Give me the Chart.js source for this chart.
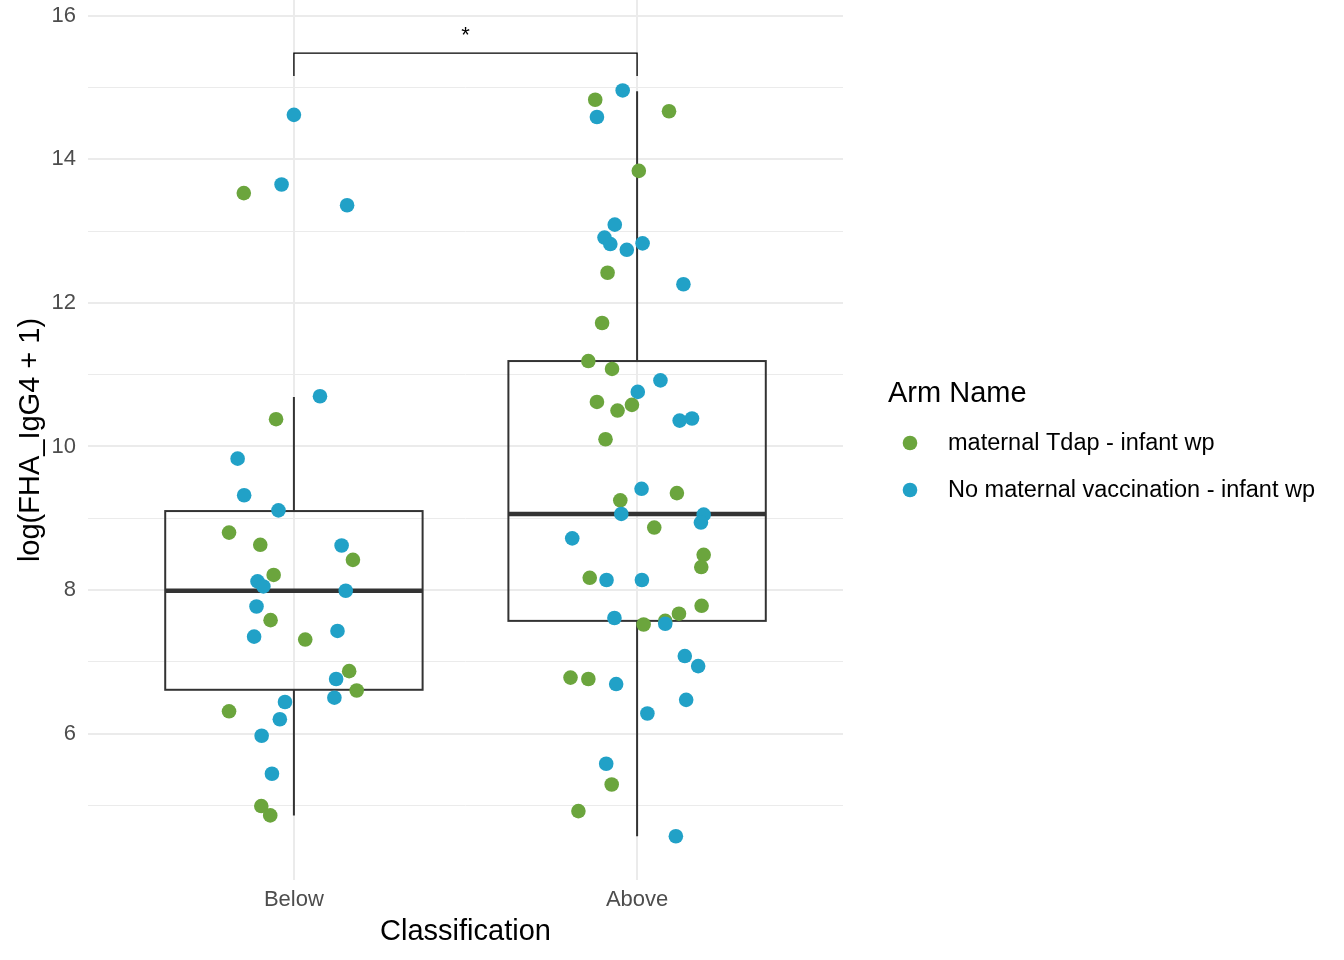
<!DOCTYPE html>
<html>
<head>
<meta charset="utf-8">
<script src="https://cdn.jsdelivr.net/npm/chart.js@4.4.0/dist/chart.umd.min.js"></script>
<style>
html,body{margin:0;padding:0;background:#ffffff;}
#wrap{width:1344px;height:960px;position:relative;}
</style>
</head>
<body>
<div id="wrap"><canvas id="c" width="1344" height="960"></canvas></div>
<script>
// ---------- data ----------
const categories = ['Below', 'Above'];
const seriesNames = ['maternal Tdap - infant wp', 'No maternal vaccination - infant wp'];
const legendTitle = 'Arm Name';
const xTitle = 'Classification';
const yTitle = 'log(FHA_IgG4 + 1)';
const yMajorTicks = [6, 8, 10, 12, 14, 16];
const yMinorTicks = [5, 7, 9, 11, 13, 15];

// maternal Tdap - infant wp (group index 1 = Below, 2 = Above)
const tdapGroup = [1,1,1,1,1,1,1,1,1,1,1,1,1,
                   2,2,2,2,2,2,2,2,2,2,2,2,2,2,2,2,2,2,2,2,2,2,2,2,2];
const tdapJitter = [-0.146,-0.052,-0.189,-0.098,0.172,-0.059,-0.068,0.033,0.161,0.183,-0.189,-0.095,-0.069,
                    -0.122,0.093,0.005,-0.086,-0.102,-0.142,-0.073,-0.117,-0.015,-0.057,-0.092,0.116,-0.049,
                    0.050,0.194,0.187,-0.138,0.188,0.122,0.082,0.019,-0.194,-0.142,-0.074,-0.171];
const tdapValue = [13.53,10.38,8.80,8.63,8.42,8.21,7.58,7.31,6.87,6.60,6.31,4.99,4.86,
                   14.83,14.67,13.84,12.42,11.72,11.19,11.08,10.62,10.58,10.50,10.10,9.35,9.25,
                   8.87,8.49,8.32,8.17,7.78,7.67,7.57,7.52,6.78,6.76,5.29,4.92];

// No maternal vaccination - infant wp
const noVaxGroup = [1,1,1,1,1,1,1,1,1,1,1,1,1,1,1,1,1,1,1,1,
                    2,2,2,2,2,2,2,2,2,2,2,2,2,2,2,2,2,2,2,2,2,2,2,2,2,2,2,2];
const noVaxJitter = [0.000,-0.036,0.155,0.076,-0.164,-0.145,-0.045,0.139,-0.106,-0.089,0.151,-0.109,0.127,-0.116,0.123,0.118,-0.026,-0.041,-0.094,-0.064,
                     -0.042,-0.117,-0.065,-0.095,0.016,-0.078,-0.030,0.135,0.068,0.002,0.160,0.124,0.013,-0.046,0.194,0.186,-0.189,-0.089,0.014,-0.066,0.082,0.139,0.178,-0.061,0.143,0.030,-0.090,0.113];
const noVaxValue = [14.62,13.65,13.36,10.70,9.83,9.32,9.11,8.62,8.12,8.05,7.99,7.77,7.43,7.35,6.76,6.50,6.44,6.20,5.97,5.44,
                    14.96,14.59,13.09,12.91,12.83,12.82,12.74,12.26,10.92,10.76,10.39,10.36,9.41,9.06,9.05,8.94,8.72,8.14,8.14,7.61,7.53,7.08,6.94,6.69,6.47,6.28,5.58,4.57];

// boxplot statistics per category
const boxLower = [4.86, 4.57];
const boxQ1 = [6.61, 7.57];
const boxMedian = [7.99, 9.06];
const boxQ3 = [9.10, 11.19];
const boxUpper = [10.69, 14.95];

// significance bracket
const sigFrom = [1];
const sigTo = [2];
const sigTop = [15.48];
const sigLegEnd = [15.16];
const sigLabel = ['*'];

// ---------- styles ----------
const COLORS = ['#6BA53D', '#21A1C7'];
const FONT = "'Liberation Sans', Arial, Helvetica, sans-serif";
const BOX_WIDTH = 0.75;
Chart.defaults.font.family = FONT;

function buildPoints(group, jitter, value) {
  return value.map((v, i) => ({ x: group[i] + jitter[i], y: v }));
}
function zeroPad(s) {
  s.paddingTop = 0; s.paddingBottom = 0; s.paddingLeft = 0; s.paddingRight = 0;
  if (s._margins) { s._margins.top = 0; s._margins.bottom = 0; s._margins.left = 0; s._margins.right = 0; }
}

const boxPlugin = {
  id: 'boxes',
  beforeDatasetsDraw(chart) {
    const ctx = chart.ctx, xs = chart.scales.x, ys = chart.scales.y;
    ctx.save();
    ctx.strokeStyle = '#333333';
    ctx.lineCap = 'butt';
    for (let i = 0; i < categories.length; i++) {
      const c = i + 1;
      const cx = xs.getPixelForValue(c);
      const xl = xs.getPixelForValue(c - BOX_WIDTH / 2);
      const xr = xs.getPixelForValue(c + BOX_WIDTH / 2);
      const yq1 = ys.getPixelForValue(boxQ1[i]);
      const yq3 = ys.getPixelForValue(boxQ3[i]);
      const ymed = ys.getPixelForValue(boxMedian[i]);
      const ylo = ys.getPixelForValue(boxLower[i]);
      const yhi = ys.getPixelForValue(boxUpper[i]);
      ctx.lineWidth = 2;
      ctx.beginPath();
      ctx.moveTo(cx, yq3); ctx.lineTo(cx, yhi);
      ctx.moveTo(cx, yq1); ctx.lineTo(cx, ylo);
      ctx.stroke();
      ctx.strokeRect(xl, yq3, xr - xl, yq1 - yq3);
      ctx.lineWidth = 4.5;
      ctx.beginPath();
      ctx.moveTo(xl, ymed); ctx.lineTo(xr, ymed);
      ctx.stroke();
    }
    ctx.restore();
  },
  afterDatasetsDraw(chart) {
    const ctx = chart.ctx, xs = chart.scales.x, ys = chart.scales.y;
    ctx.save();
    for (let k = 0; k < sigLabel.length; k++) {
      const x1 = xs.getPixelForValue(sigFrom[k]);
      const x2 = xs.getPixelForValue(sigTo[k]);
      const yt = ys.getPixelForValue(sigTop[k]);
      const yb = ys.getPixelForValue(sigLegEnd[k]);
      ctx.strokeStyle = '#000000';
      ctx.lineWidth = 1.3;
      ctx.beginPath();
      ctx.moveTo(x1, yb); ctx.lineTo(x1, yt); ctx.lineTo(x2, yt); ctx.lineTo(x2, yb);
      ctx.stroke();
      ctx.fillStyle = '#000000';
      ctx.font = '22px ' + FONT;
      ctx.textAlign = 'center';
      ctx.textBaseline = 'alphabetic';
      ctx.fillText(sigLabel[k], (x1 + x2) / 2, yt - 11);
    }
    ctx.restore();
  },
  afterDraw(chart) {
    const ctx = chart.ctx;
    ctx.save();
    ctx.fillStyle = '#000000';
    ctx.textAlign = 'left';
    ctx.textBaseline = 'middle';
    ctx.font = '29px ' + FONT;
    ctx.fillText(legendTitle, 888, 394);
    ctx.font = '23.5px ' + FONT;
    for (let i = 0; i < seriesNames.length; i++) {
      const y = 443 + i * 47;
      ctx.fillStyle = COLORS[i];
      ctx.beginPath();
      ctx.arc(910, y, 7.3, 0, Math.PI * 2);
      ctx.fill();
      ctx.fillStyle = '#000000';
      ctx.fillText(seriesNames[i], 948, y + 1);
    }
    ctx.restore();
  }
};

new Chart(document.getElementById('c'), {
  type: 'scatter',
  data: {
    datasets: [
      { label: seriesNames[0], data: buildPoints(tdapGroup, tdapJitter, tdapValue),
        backgroundColor: COLORS[0], borderWidth: 0, pointRadius: 7.3, pointHoverRadius: 7.3, order: 2 },
      { label: seriesNames[1], data: buildPoints(noVaxGroup, noVaxJitter, noVaxValue),
        backgroundColor: COLORS[1], borderWidth: 0, pointRadius: 7.3, pointHoverRadius: 7.3, order: 1 }
    ]
  },
  options: {
    responsive: false,
    animation: false,
    events: [],
    layout: { autoPadding: false, padding: { left: 0, top: 0, right: 501, bottom: 0 } },
    plugins: { legend: { display: false }, tooltip: { enabled: false } },
    scales: {
      x: {
        type: 'linear', min: 0.4, max: 2.6,
        afterBuildTicks: s => { s.ticks = categories.map((c, i) => ({ value: i + 1 })); },
        afterFit: s => { s.height = 80; zeroPad(s); },
        ticks: { callback: v => categories[Math.round(v) - 1], autoSkip: false, maxRotation: 0,
                 color: '#4D4D4D', font: { size: 22 }, padding: 7 },
        grid: { color: '#EBEBEB', lineWidth: 2, drawTicks: false },
        border: { display: false },
        title: { display: true, text: xTitle, color: '#000000', font: { size: 29 }, padding: { top: 0, bottom: 11 } }
      },
      y: {
        type: 'linear', min: 3.96, max: 16.22,
        afterBuildTicks: s => {
          s.ticks = yMinorTicks.concat(yMajorTicks).sort((a, b) => a - b).map(v => ({ value: v }));
        },
        afterFit: s => { s.width = 88; zeroPad(s); },
        ticks: { callback: v => (yMajorTicks.includes(v) ? String(v) : ''), autoSkip: false,
                 color: '#4D4D4D', font: { size: 22 }, padding: 12 },
        grid: { color: '#EBEBEB', drawTicks: false,
                lineWidth: c => (c.tick && yMajorTicks.includes(c.tick.value) ? 2 : 1) },
        border: { display: false },
        title: { display: true, text: yTitle, color: '#000000', font: { size: 29 }, padding: { top: 14, bottom: 0 } }
      }
    }
  },
  plugins: [boxPlugin]
});
</script>
</body>
</html>
